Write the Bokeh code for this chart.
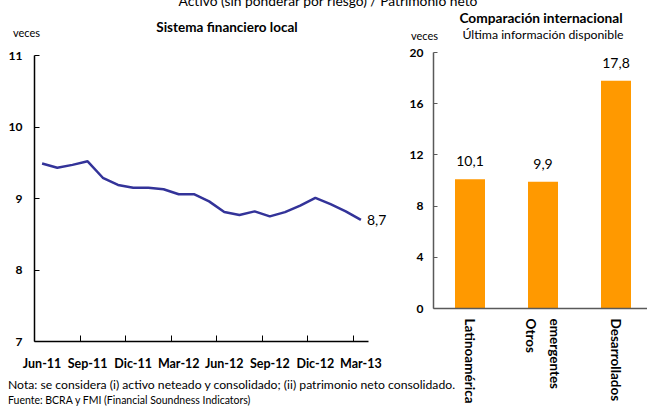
from bokeh.plotting import figure
from bokeh.models import FixedTicker, Label, LabelSet, ColumnDataSource, Range1d, Div
from bokeh.core.properties import value
from bokeh.layouts import row
from bokeh.embed import file_html
from bokeh.resources import INLINE

# Local financial system: assets (unweighted) / net worth, monthly Jun-11 .. Mar-13
months = ["Jun-11", "Jul-11", "Ago-11", "Sep-11", "Oct-11", "Nov-11", "Dic-11",
          "Ene-12", "Feb-12", "Mar-12", "Abr-12", "May-12", "Jun-12", "Jul-12",
          "Ago-12", "Sep-12", "Oct-12", "Nov-12", "Dic-12", "Ene-13", "Feb-13", "Mar-13"]
leverage = [9.49, 9.43, 9.47, 9.52, 9.29, 9.19, 9.15, 9.15, 9.13, 9.06, 9.06,
            8.96, 8.81, 8.77, 8.82, 8.75, 8.81, 8.90, 9.01, 8.92, 8.82, 8.70]
tick_months = ["Jun-11", "Sep-11", "Dic-11", "Mar-12", "Jun-12", "Sep-12", "Dic-12", "Mar-13"]
left_yticks = [7, 8, 9, 10, 11]

# International comparison, latest available data
regions = ["Latinoamérica", "Otros\nemergentes", "Desarrollados"]
region_values = [10.1, 9.9, 17.8]
right_yticks = [0, 4, 8, 12, 16, 20]

title = "Activo (sin ponderar por riesgo) / Patrimonio neto"
left_title = "Sistema financiero local"
right_title = "Comparación internacional"
right_subtitle = "Última información disponible"
unit = "veces"
note = "Nota: se considera (i) activo neteado y consolidado; (ii) patrimonio neto consolidado."
source = "Fuente: BCRA y FMI (Financial Soundness Indicators)"

FONT = "Lato"
LINE = "#333399"
BAR = "#FF9900"
W1, W2, H = 395, 252, 409


def fmt(v):
    return f"{v:.1f}".replace(".", ",")


# ---------------- left: Sistema financiero local ----------------
n = len(months)
frame_l, frame_r, frame_ext = 34, 368, 392      # axis spans 34..368, frame a bit wider for the end label
x_end = n * (frame_ext - frame_l) / (frame_r - frame_l)
p1 = figure(width=W1, height=H, x_range=Range1d(0, x_end), y_range=Range1d(7, 11),
            output_backend="svg", toolbar_location=None, frame_align=False,
            min_border_left=frame_l, min_border_right=W1 - frame_ext,
            min_border_top=55, min_border_bottom=H - 341)
p1.outline_line_color = None
p1.xgrid.visible = False
p1.ygrid.visible = False

xs = [i + 0.5 for i in range(n)]
p1.line(xs, leverage, line_color=LINE, line_width=2.5)

label_pos = [months.index(m) + 0.5 for m in tick_months]
p1.xaxis.bounds = (0, n)
p1.xaxis.ticker = FixedTicker(ticks=label_pos,
                              minor_ticks=[float(k) for k in range(3, n, 3)])
p1.xaxis.major_label_overrides = {pos: m for pos, m in zip(label_pos, tick_months)}
p1.xaxis.major_tick_in = 0
p1.xaxis.major_tick_out = 0
p1.xaxis.minor_tick_in = 6
p1.xaxis.minor_tick_out = 0
p1.xaxis.minor_tick_line_color = "black"
p1.xaxis.major_label_standoff = 14
p1.xaxis.major_label_text_font_size = "12.5px"

p1.yaxis.ticker = FixedTicker(ticks=left_yticks, minor_ticks=[])
p1.yaxis.major_tick_in = 5
p1.yaxis.major_tick_out = 0
p1.yaxis.major_tick_line_color = "black"
p1.yaxis.major_label_standoff = 12
p1.yaxis.major_label_text_font_size = "12px"

for ax in (p1.xaxis, p1.yaxis):
    ax.axis_line_width = 1.5
    ax.axis_line_color = "black"
    ax.major_label_text_font = FONT
    ax.major_label_text_font_style = "bold"
    ax.major_label_text_color = "black"

p1.add_layout(Label(x=xs[-1], y=leverage[-1], text=fmt(leverage[-1]), x_offset=6,
                    text_baseline="middle", text_font=FONT, text_font_size="14px",
                    text_color="black"))

# ---------------- right: Comparación internacional ----------------
cat_px = 73.0
left2 = 38
x_end2 = (W2 - left2) / cat_px
p2 = figure(width=W2, height=H, x_range=Range1d(0, x_end2), y_range=Range1d(0, 20),
            output_backend="svg", toolbar_location=None, frame_align=False,
            min_border_left=left2, min_border_right=0,
            min_border_top=52, min_border_bottom=H - 308)
p2.outline_line_color = None
p2.xgrid.visible = False
p2.ygrid.visible = False

bx = [i + 0.5 for i in range(len(regions))]
src = ColumnDataSource(dict(x=bx, top=region_values,
                            txt=[fmt(v) for v in region_values]))
p2.vbar(x="x", top="top", bottom=0, width=30 / cat_px, source=src,
        fill_color=BAR, line_color=None)
p2.add_layout(LabelSet(x="x", y="top", text="txt", source=src, y_offset=18,
                       text_align="center", text_baseline="middle",
                       text_font=value(FONT), text_font_size="14px", text_color="black"))

# rotated multi-line tick labels stack their lines right-to-left,
# so the line order is flipped to keep the first line on the left
tick_text = ["\n".join(reversed(r.split("\n"))) for r in regions]
p2.xaxis.ticker = FixedTicker(ticks=bx, minor_ticks=[])
p2.xaxis.major_label_overrides = {x: t for x, t in zip(bx, tick_text)}
p2.xaxis.major_label_orientation = "vertical"
p2.xaxis.major_tick_in = 0
p2.xaxis.major_tick_out = 0
p2.xaxis.major_label_standoff = 10
p2.xaxis.major_label_text_line_height = 1.5
p2.xaxis.major_label_text_font_size = "13.5px"

p2.yaxis.ticker = FixedTicker(ticks=right_yticks, minor_ticks=[])
p2.yaxis.major_tick_in = 4
p2.yaxis.major_tick_out = 0
p2.yaxis.major_tick_line_color = "#595959"
p2.yaxis.major_label_standoff = 10
p2.yaxis.major_label_text_font_size = "12px"

for ax in (p2.xaxis, p2.yaxis):
    ax.axis_line_color = "#595959"
    ax.axis_line_width = 1.5
    ax.major_label_text_font = FONT
    ax.major_label_text_font_style = "bold"
    ax.major_label_text_color = "black"


# ---------------- free texts (titles, units, footnotes) ----------------
def span(text, x, baseline, size, bold=False, align="left"):
    top = baseline - 1.15 * size
    tx = {"left": "0", "center": "-50%", "right": "-100%"}[align]
    return (f'<span style="position:absolute;left:{x}px;top:{top:.1f}px;'
            f'font-family:{FONT};font-size:{size}px;font-weight:{700 if bold else 400};'
            f'line-height:1;white-space:nowrap;color:#000;'
            f'transform:translateX({tx})">{text}</span>')


spans = [
    span(title, 323, 4.7, 13.8, align="center"),
    span(unit, 8, 35, 11),
    span(left_title, 222, 31.5, 13.5, bold=True, align="center"),
    span(right_title, 536, 21.5, 13.7, bold=True, align="center"),
    span(unit, 406, 38, 11),
    span(right_subtitle, 538, 38, 12.3, align="center"),
    span(note, 3, 387.5, 12.2),
    span(source, 3, 402.5, 10.5),
]
overlay = Div(
    text=f'<div style="position:relative;width:647px;height:409px;">{"".join(spans)}</div>',
    width=647, height=409,
    styles={"position": "absolute", "left": "0px", "top": "0px", "pointer-events": "none"},
    stylesheets=[":host{position:absolute !important;left:0 !important;top:0 !important;}"],
)

layout = row(p1, p2, spacing=0)
open("out.html", "w").write(file_html([layout, overlay], INLINE))
